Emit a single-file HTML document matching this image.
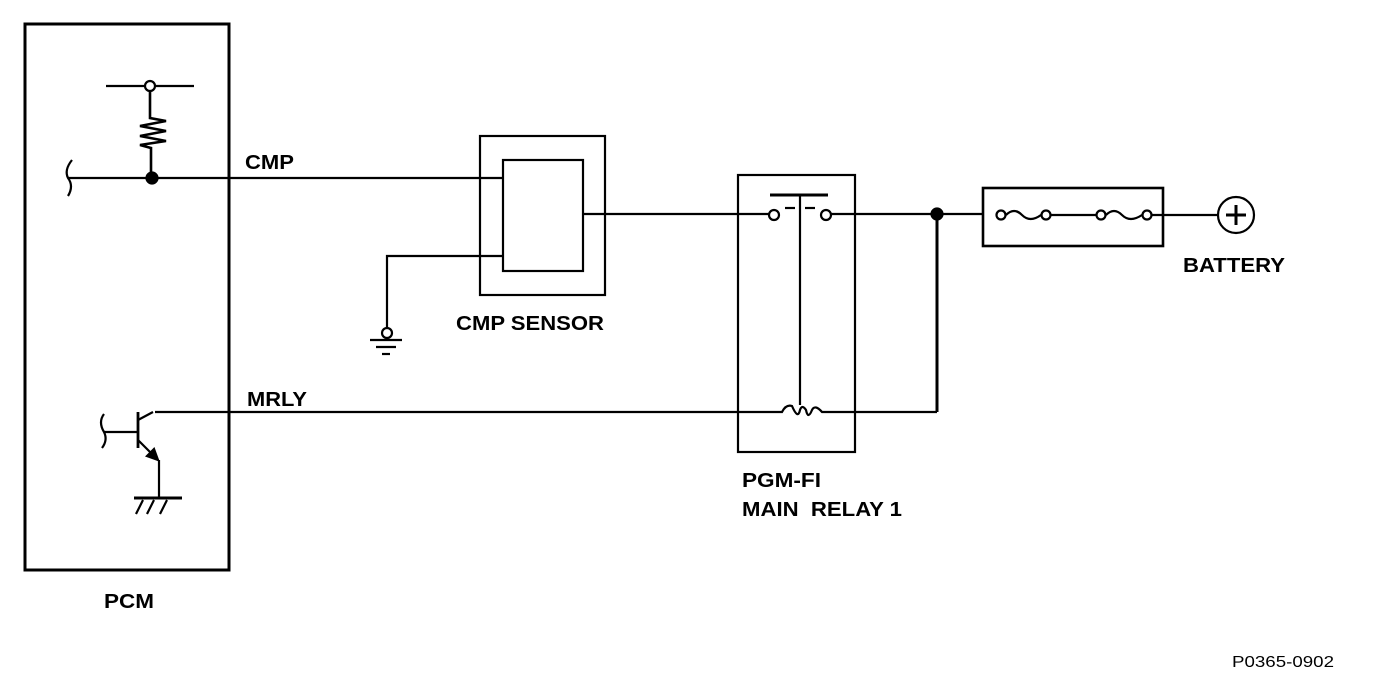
<!DOCTYPE html>
<html><head><style>body{margin:0;background:#fff}svg{display:block}text{font-family:"Liberation Sans",sans-serif;font-weight:bold;font-size:20px;fill:#000}</style></head>
<body>
<svg width="1376" height="688" viewBox="0 0 1376 688" fill="none" stroke="#000" stroke-width="2.2">
<rect x="25" y="24" width="204" height="546" stroke-width="3"/>
<line x1="106" y1="86" x2="194" y2="86"/>
<circle cx="150" cy="86" r="5" fill="#fff"/>
<polyline points="150,91 150,118 166,121 140,126 166,131 140,136 166,141 140,145 151,148 151,178" stroke-width="2.6"/>
<circle cx="152" cy="178" r="5.5" fill="#000"/>
<path d="M72,160 Q64,170 68,178 Q74,186 68,196"/>
<line x1="68" y1="178" x2="480" y2="178"/>
<rect x="480" y="136" width="125" height="159"/>
<rect x="503" y="160" width="80" height="111"/>
<line x1="480" y1="178" x2="503" y2="178"/>
<line x1="583" y1="214" x2="738" y2="214"/>
<polyline points="503,256 387,256 387,328"/>
<circle cx="387" cy="333" r="5" fill="#fff"/>
<line x1="370" y1="340" x2="402" y2="340"/>
<line x1="376" y1="347" x2="396" y2="347"/>
<line x1="382" y1="354" x2="390" y2="354"/>
<rect x="738" y="175" width="117" height="277"/>
<line x1="770" y1="195" x2="828" y2="195" stroke-width="3"/>
<line x1="800" y1="195" x2="800" y2="405"/>
<line x1="785" y1="208" x2="795" y2="208"/>
<line x1="805" y1="208" x2="815" y2="208"/>
<circle cx="774" cy="215" r="5" fill="#fff"/>
<circle cx="826" cy="215" r="5" fill="#fff"/>
<line x1="738" y1="214" x2="769" y2="214"/>
<line x1="831" y1="214" x2="983" y2="214"/>
<circle cx="937" cy="214" r="5.5" fill="#000"/>
<line x1="937" y1="214" x2="937" y2="412" stroke-width="3"/>
<path d="M155,412 L782,412 Q786,404 792,406 Q798,420 800,410 Q802,404 806,410 Q808,420 812,410 Q815,404 822,412 L937,412"/>
<rect x="983" y="188" width="180" height="58" stroke-width="2.6"/>
<circle cx="1001" cy="215" r="4.5" fill="#fff"/>
<circle cx="1046" cy="215" r="4.5" fill="#fff"/>
<circle cx="1101" cy="215" r="4.5" fill="#fff"/>
<circle cx="1147" cy="215" r="4.5" fill="#fff"/>
<path d="M1006,215 Q1014,207 1022,215 Q1030,223 1041,215"/>
<line x1="1051" y1="215" x2="1096" y2="215"/>
<path d="M1106,215 Q1114,207 1122,215 Q1130,223 1142,215"/>
<line x1="1152" y1="215" x2="1217" y2="215"/>
<circle cx="1236" cy="215" r="18"/>
<line x1="1226" y1="215" x2="1246" y2="215" stroke-width="3"/>
<line x1="1236" y1="205" x2="1236" y2="225" stroke-width="3"/>
<line x1="138" y1="412" x2="138" y2="448" stroke-width="2.8"/>
<line x1="138" y1="420" x2="153" y2="412"/>
<path d="M104,414 Q98,422 104,432 Q108,440 102,448"/>
<line x1="104" y1="432" x2="138" y2="432"/>
<line x1="138" y1="440" x2="158" y2="460"/>
<polygon points="158,460 147,456 154,449" fill="#000"/>
<line x1="159" y1="460" x2="159" y2="498"/>
<line x1="134" y1="498" x2="182" y2="498" stroke-width="3"/>
<line x1="143" y1="500" x2="136" y2="514"/>
<line x1="154" y1="500" x2="147" y2="514"/>
<line x1="167" y1="500" x2="160" y2="514"/>
<g stroke="none">
<text x="245" y="169" textLength="49" lengthAdjust="spacingAndGlyphs">CMP</text>
<text x="247" y="406" textLength="60" lengthAdjust="spacingAndGlyphs">MRLY</text>
<text x="456" y="330" textLength="148" lengthAdjust="spacingAndGlyphs">CMP SENSOR</text>
<text x="742" y="487" textLength="79" lengthAdjust="spacingAndGlyphs">PGM-FI</text>
<text x="742" y="516" textLength="160" lengthAdjust="spacingAndGlyphs" xml:space="preserve">MAIN  RELAY 1</text>
<text x="1183" y="272" textLength="102" lengthAdjust="spacingAndGlyphs">BATTERY</text>
<text x="104" y="608" textLength="50" lengthAdjust="spacingAndGlyphs">PCM</text>
<text x="1232" y="667" textLength="102" lengthAdjust="spacingAndGlyphs" style="font-weight:normal;font-size:16px">P0365-0902</text>
</g>
</svg>
</body></html>
